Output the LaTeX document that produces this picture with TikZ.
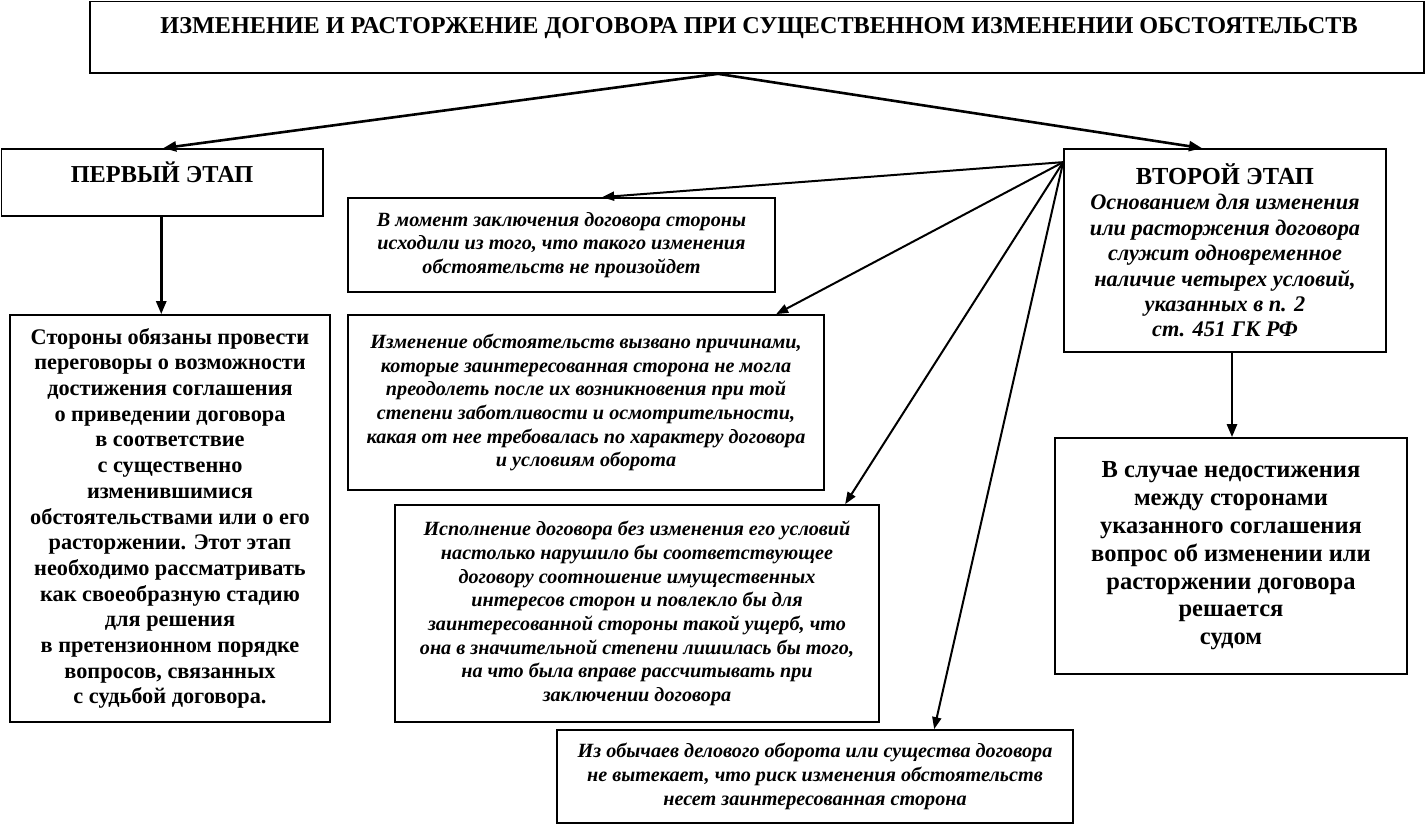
\documentclass[tikz,border=0pt]{standalone}
\usepackage{fontspec}
\setmainfont{Liberation Serif}
\usetikzlibrary{arrows.meta,calc}
\begin{document}
\begin{tikzpicture}[x=1pt,y=-1pt,
  box/.style={draw, line width=1.7pt, inner sep=0pt, align=center},
  bigarrow/.style={line width=2.6pt, -{Triangle[length=13pt,width=10pt]}},
  fanarrow/.style={line width=2pt, -{Triangle[length=12pt,width=9pt]}},
  cond/.style={box, font=\fontsize{20.2}{23.7}\selectfont\bfseries\itshape}
]
\useasboundingbox (0,0) rectangle (1428,826);
\fill[white] (0,0) rectangle (1428,826);

% boxes
\node[box, minimum width=1334pt, minimum height=71.5pt] (title) at (757,37.25) {};
\node[font=\fontsize{24.2}{28}\selectfont\bfseries] (titletext) at (759,28)
  {ИЗМЕНЕНИЕ И РАСТОРЖЕНИЕ ДОГОВОРА ПРИ СУЩЕСТВЕННОМ ИЗМЕНЕНИИ ОБСТОЯТЕЛЬСТВ};

\node[box, minimum width=321.5pt, minimum height=67pt] (first) at (162.25,182.5) {};
\node[font=\fontsize{24.3}{28}\selectfont\bfseries] (firsttext) at (162,172) {ПЕРВЫЙ ЭТАП};

\node[box, minimum width=320pt, minimum height=407pt,
  font=\fontsize{22.3}{25.7}\selectfont\bfseries] (left) at (170,518.5)
  {Стороны обязаны провести\\
   переговоры о возможности\\
   достижения соглашения\\
   о приведении договора\\
   в соответствие\\
   с существенно\\
   изменившимися\\
   обстоятельствами или о его\\
   расторжении. Этот этап\\
   необходимо рассматривать\\
   как своеобразную стадию\\
   для решения\\
   в претензионном порядке\\
   вопросов, связанных\\
   с судьбой договора.};

\node[box, minimum width=322pt, minimum height=203pt,
  font=\fontsize{22.3}{25.4}\selectfont\bfseries] (second) at (1225,250.5)
  {{\fontsize{24.5}{28}\selectfont ВТОРОЙ ЭТАП}\\
   \itshape Основанием для изменения\\
   \itshape или расторжения договора\\
   \itshape служит одновременное\\
   \itshape наличие четырех условий,\\
   \itshape указанных в п. 2\\
   \itshape ст. 451 ГК РФ};

\node[box, minimum width=352pt, minimum height=236pt,
  font=\fontsize{24.5}{27.8}\selectfont\bfseries] (rb) at (1231,556)
  {В случае недостижения\\
   между сторонами\\
   указанного соглашения\\
   вопрос об изменении или\\
   расторжении договора\\
   решается\\
   судом};

\node[cond, minimum width=427pt, minimum height=94pt] (b1) at (561.5,245)
  {В момент заключения договора стороны\\
   исходили из того, что такого изменения\\
   обстоятельств не произойдет};

\node[cond, minimum width=476pt, minimum height=175pt] (b2) at (586,402.5)
  {Изменение обстоятельств вызвано причинами,\\
   которые заинтересованная сторона не могла\\
   преодолеть после их возникновения при той\\
   степени заботливости и осмотрительности,\\
   какая от нее требовалась по характеру договора\\
   и условиям оборота};

\node[cond, minimum width=484pt, minimum height=217pt] (b3) at (637,613.5)
  {Исполнение договора без изменения его условий\\
   настолько нарушило бы соответствующее\\
   договору соотношение имущественных\\
   интересов сторон и повлекло бы для\\
   заинтересованной стороны такой ущерб, что\\
   она в значительной степени лишилась бы того,\\
   на что была вправе рассчитывать при\\
   заключении договора};

\node[cond, minimum width=516pt, minimum height=93pt] (b4) at (815,776.5)
  {Из обычаев делового оборота или существа договора\\
   не вытекает, что риск изменения обстоятельств\\
   несет заинтересованная сторона};

% connectors
\coordinate (tsrc) at ($(title.south)+(-39,0)$);
\draw[bigarrow] (tsrc) -- ($(first.north)+(1,0)$);
\draw[bigarrow] (tsrc) -- ($(second.north)+(-23,0)$);
\coordinate (fsrc) at ($(first.south)+(-1,0)$);
\draw[bigarrow] (fsrc) -- (fsrc |- left.north);
\coordinate (ssrc) at ($(second.south)+(7,0)$);
\draw[bigarrow] (ssrc) -- (ssrc |- rb.north);

\coordinate (fan) at ($(second.north west)+(0,14)$);
\draw[fanarrow] (fan) -- ($(b1.north west)+(255,0)$);
\draw[fanarrow] (fan) -- ($(b2.north west)+(429,0)$);
\draw[fanarrow] (fan) -- ($(b3.north west)+(451,0)$);
\draw[fanarrow] (fan) -- ($(b4.north west)+(378,0)$);
\end{tikzpicture}
\end{document}
